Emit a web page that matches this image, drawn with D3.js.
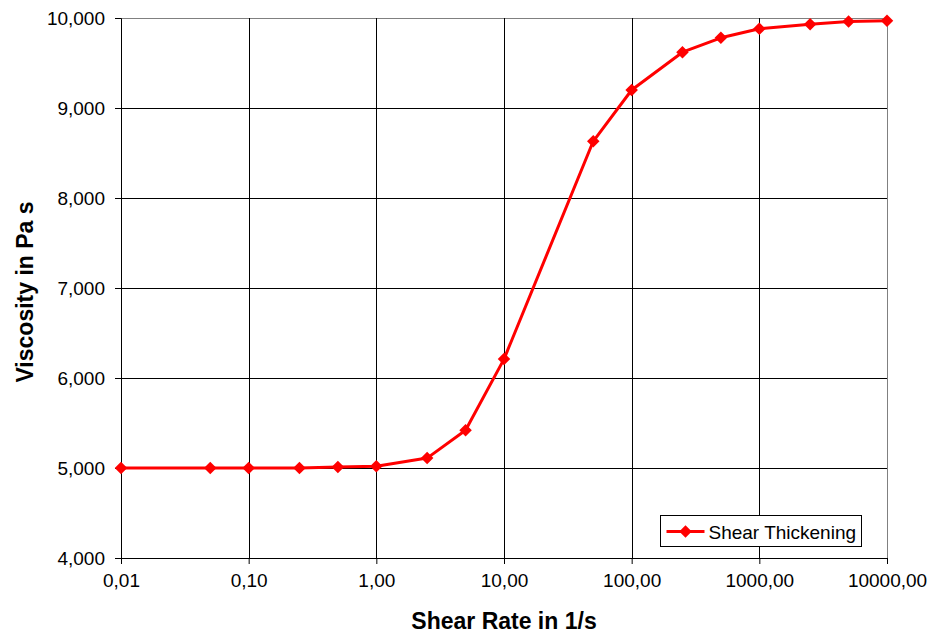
<!DOCTYPE html>
<html>
<head>
<meta charset="utf-8">
<script src="https://cdn.jsdelivr.net/npm/d3@7.9.0/dist/d3.min.js"></script>
<style>
  body { margin: 0; background: #fff; }
  svg { font-family: "Liberation Sans", Arial, sans-serif; }
</style>
</head>
<body>
<svg id="chart" width="929" height="633"></svg>
<script>
const shearRate = [0.01, 0.05, 0.1, 0.25, 0.5, 1, 2.5, 5, 10, 50, 100, 250, 500, 1000, 2500, 5000, 10000];
const viscosity = [5000, 5000, 5000, 5000, 5010, 5020, 5110, 5420, 6210, 8630, 9200, 9620, 9780, 9880, 9930, 9960, 9970];
const xTicks = [0.01, 0.1, 1, 10, 100, 1000, 10000];
const xTickLabels = ['0,01', '0,10', '1,00', '10,00', '100,00', '1000,00', '10000,00'];
const yTicks = [4000, 5000, 6000, 7000, 8000, 9000, 10000];
const seriesName = 'Shear Thickening';

const svg = d3.select('#chart');
const margin = { left: 121, right: 42, top: 18, bottom: 75 };
const width = 929 - margin.left - margin.right;
const height = 633 - margin.top - margin.bottom;

const x = d3.scaleLog().domain([0.01, 10000]).range([0, width]);
const y = d3.scaleLinear().domain([4000, 10000]).range([height, 0]);

const g = svg.append('g').attr('transform', `translate(${margin.left},${margin.top})`);

// plot border
g.append('rect')
  .attr('x', 0.5).attr('y', 0.5)
  .attr('width', width).attr('height', height)
  .attr('fill', 'none').attr('stroke', '#808080');

// gridlines
g.selectAll('.hgrid').data(yTicks.slice(1, -1)).join('line')
  .attr('x1', 0).attr('x2', width)
  .attr('y1', d => Math.round(y(d)) + 0.5).attr('y2', d => Math.round(y(d)) + 0.5)
  .attr('stroke', '#000');
g.selectAll('.vgrid').data(xTicks.slice(1, -1)).join('line')
  .attr('y1', 0).attr('y2', height)
  .attr('x1', d => Math.round(x(d)) + 0.5).attr('x2', d => Math.round(x(d)) + 0.5)
  .attr('stroke', '#000');

// axes
const xAxis = d3.axisBottom(x).tickValues(xTicks)
  .tickFormat((d, i) => xTickLabels[i]).tickSize(6).tickPadding(10);
const yAxis = d3.axisLeft(y).tickValues(yTicks)
  .tickFormat(d3.format(',')).tickSize(6).tickPadding(10);

const gx = g.append('g').attr('transform', `translate(0,${height})`).call(xAxis);
const gy = g.append('g').call(yAxis);
[gx, gy].forEach(a => {
  a.select('.domain').attr('stroke', '#000');
  a.selectAll('line').attr('stroke', '#000');
  a.selectAll('text').attr('font-size', 19).attr('fill', '#000')
    .attr('font-family', '"Liberation Sans", Arial, sans-serif');
});

// line
const data = shearRate.map((s, i) => ({ s, v: viscosity[i] }));
g.append('path')
  .datum(data)
  .attr('fill', 'none')
  .attr('stroke', '#ff0000')
  .attr('stroke-width', 3)
  .attr('stroke-linejoin', 'round')
  .attr('d', d3.line().x(d => x(d.s)).y(d => y(d.v)));

const diamond = d3.symbol().type(d3.symbolDiamond2).size(100);
g.selectAll('.pt').data(data).join('path')
  .attr('transform', d => `translate(${x(d.s)},${y(d.v)})`)
  .attr('d', diamond)
  .attr('fill', '#ff0000');

// legend
const lg = svg.append('g').attr('transform', 'translate(660.5,515.5)');
lg.append('rect').attr('width', 201).attr('height', 31)
  .attr('fill', '#fff').attr('stroke', '#000');
lg.append('line').attr('x1', 6).attr('x2', 44).attr('y1', 16).attr('y2', 16)
  .attr('stroke', '#ff0000').attr('stroke-width', 3);
lg.append('path').attr('transform', 'translate(25,16)').attr('d', diamond).attr('fill', '#ff0000');
lg.append('text').attr('x', 48).attr('y', 23).attr('font-size', 19).text(seriesName);

// axis titles
svg.append('text')
  .attr('x', margin.left + width / 2).attr('y', 629)
  .attr('text-anchor', 'middle').attr('font-size', 23).attr('font-weight', 'bold')
  .text('Shear Rate in 1/s');
svg.append('text')
  .attr('transform', `translate(33,${margin.top + height / 2 + 4}) rotate(-90)`)
  .attr('text-anchor', 'middle').attr('font-size', 23).attr('font-weight', 'bold')
  .text('Viscosity in Pa s');
</script>
</body>
</html>
